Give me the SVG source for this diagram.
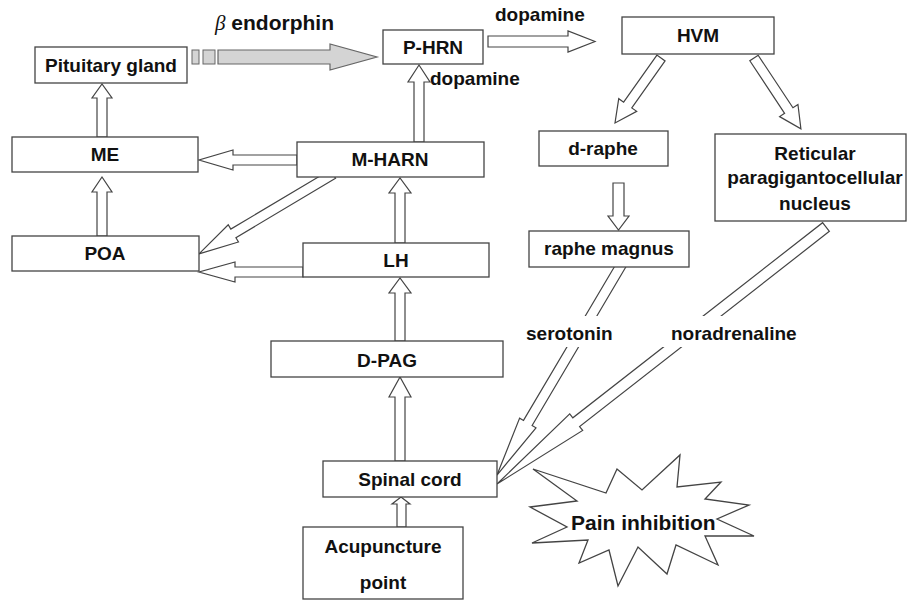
<svg xmlns="http://www.w3.org/2000/svg" width="908" height="601" viewBox="0 0 908 601">
<style>
.box{fill:#fff;stroke:#444;stroke-width:1.3}
.ar{fill:#fff;stroke:#444;stroke-width:1.2;stroke-linejoin:miter}
.t{font-family:"Liberation Sans",Arial,sans-serif;font-size:19px;font-weight:bold;fill:#111;text-anchor:middle}
.l{font-family:"Liberation Sans",Arial,sans-serif;font-size:19px;font-weight:bold;fill:#111}
.big{font-size:21px}
.gap{fill:#fff;stroke:none}
</style>
<rect width="908" height="601" fill="#fff"/>
<g id="connectors">
  <rect x="192" y="50" width="7" height="14" fill="#d4d4d4" stroke="#666" stroke-width="1"/>
  <rect x="203" y="50" width="12" height="14" fill="#d4d4d4" stroke="#666" stroke-width="1"/>
  <polygon points="218,50 330,50 330,44 377,57 330,70 330,64 218,64" fill="#d4d4d4" stroke="#666" stroke-width="1.2"/>
  <polygon class="ar" points="488,36 568,36 568,31 595,41.5 568,52 568,47 488,47"/>
  <polygon class="ar" points="414,142 414,82 408,82 419,65 430,82 424,82 424,142"/>
  <g transform="translate(661,58) rotate(125.3)"><path class="ar" d="M0,-5 H57.6 V-11 L79.6,0 L57.6,11 V5 H0 Z"/></g>
  <g transform="translate(754,58) rotate(56.5)"><path class="ar" d="M0,-5 H63 V-11 L85,0 L63,11 V5 H0 Z"/></g>
  <polygon class="ar" points="613,183 613,216 608,216 618.5,230 629,216 624,216 624,183"/>
  <polygon class="ar" points="97,137 97,98 92,98 102,84 112,98 107,98 107,137"/>
  <polygon class="ar" points="97,236 97,192 92,192 102,177 112,192 107,192 107,236"/>
  <polygon class="ar" points="297,155 233,155 233,150 199,160 233,170 233,165 297,165"/>
  <g transform="translate(333,174) rotate(149.2)"><path class="ar" d="M0,-5 H116 V-10 L156,0 L116,10 V5 H0 Z"/></g>
  <polygon class="ar" points="303,267 235,267 235,262 199,272 235,282 235,277 303,277"/>
  <polygon class="ar" points="395,243 395,193 389,193 400,178 411,193 405,193 405,243"/>
  <polygon class="ar" points="395,341 395,293 389,293 400,278 411,293 405,293 405,341"/>
  <polygon class="ar" points="395,461 395,397 389,397 400,377 411,397 405,397 405,461"/>
  <polygon class="ar" points="397,527 397,504 392,504 401,497 410,504 406,504 406,527"/>
  <g transform="translate(623,262) rotate(120.6)"><path class="ar" d="M0,-5 H187 V-9.5 L247.5,0 L187,9.5 V5 H0 Z"/></g>
  <g transform="translate(826,227) rotate(142)"><path class="ar" d="M0,-5.5 H317 V-10.5 L417.5,0 L317,10.5 V5.5 H0 Z"/></g>
  <rect class="gap" x="518" y="316" width="96" height="31"/>
  <rect class="gap" x="655" y="316" width="150" height="31"/>
  <text class="l big" x="215" y="30"><tspan font-family="'Liberation Serif',serif" font-style="italic" font-weight="normal">β</tspan> endorphin</text>
  <text class="l" x="495" y="21">dopamine</text>
  <text class="l" x="430" y="85">dopamine</text>
  <text class="l" x="526" y="340">serotonin</text>
  <text class="l" x="671" y="340">noradrenaline</text>
</g>
<g id="pituitary"><rect class="box" x="35" y="47" width="152" height="36"/><text class="t" x="111" y="72">Pituitary gland</text></g>
<g id="phrn"><rect class="box" x="383" y="30" width="100" height="34"/><text class="t" x="433" y="54">P-HRN</text></g>
<g id="hvm"><rect class="box" x="622" y="17" width="152" height="37"/><text class="t" x="698" y="42">HVM</text></g>
<g id="me"><rect class="box" x="12" y="137" width="186" height="35"/><text class="t" x="105" y="161">ME</text></g>
<g id="mharn"><rect class="box" x="297" y="142" width="187" height="35"/><text class="t" x="390" y="166">M-HARN</text></g>
<g id="poa"><rect class="box" x="12" y="236" width="187" height="35"/><text class="t" x="105" y="260">POA</text></g>
<g id="lh"><rect class="box" x="303" y="243" width="186" height="34"/><text class="t" x="396" y="267">LH</text></g>
<g id="draphe"><rect class="box" x="539" y="131" width="129" height="35"/><text class="t" x="603" y="155">d-raphe</text></g>
<g id="reticular"><rect class="box" x="715" y="134" width="191" height="87"/><text class="t" x="815" y="160">Reticular</text><text class="t" x="815" y="184">paragigantocellular</text><text class="t" x="815" y="210">nucleus</text></g>
<g id="raphemagnus"><rect class="box" x="529" y="231" width="160" height="36"/><text class="t" x="609" y="255">raphe magnus</text></g>
<g id="dpag"><rect class="box" x="271" y="341" width="232" height="36"/><text class="t" x="387" y="367">D-PAG</text></g>
<g id="spinal"><rect class="box" x="323" y="461" width="174" height="36"/><text class="t" x="410" y="486">Spinal cord</text></g>
<g id="acupuncture"><rect class="box" x="303" y="527" width="160" height="72"/><text class="t" x="383" y="553">Acupuncture</text><text class="t" x="383" y="589">point</text></g>
<g id="pain"><polygon fill="#fff" stroke="#444" stroke-width="1.3" points="533,469 606,493 617,469 642,490 680,455 677,487 721,482 705,499 749,505 717,519 754,536 705,536 718,565 676,545 667,574 638,547 618,586 609,550 579,563 588,540 532,543 567,527 530,507 577,501"/><text class="l big" x="571" y="530">Pain inhibition</text></g>
</svg>
